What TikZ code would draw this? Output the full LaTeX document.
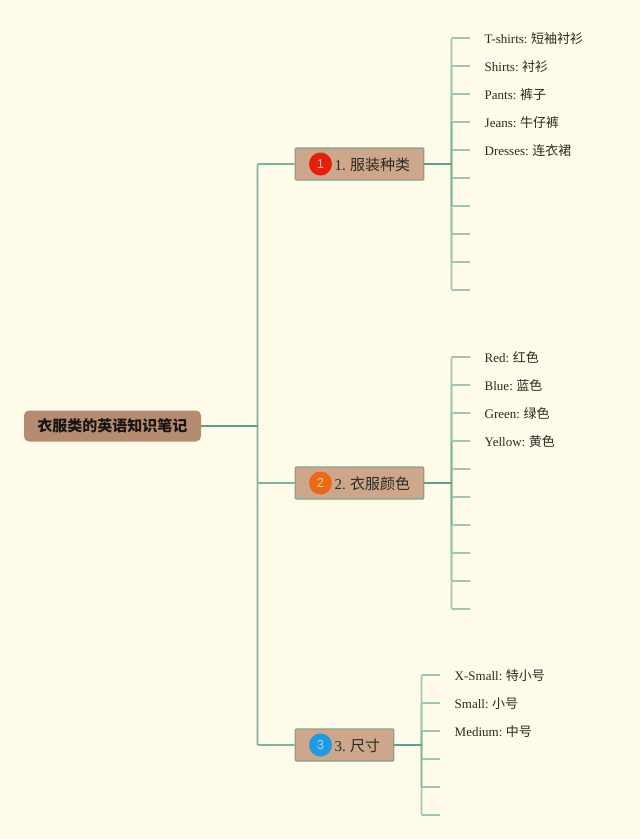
\documentclass[tikz,border=0pt]{standalone}
\usepackage{fontspec}
\setmainfont{Liberation Serif}
\setsansfont{Liberation Sans}
\newfontfamily\cjk{Noto Sans CJK SC}
\definecolor{bgc}{HTML}{FFFBE9}
\definecolor{rootc}{HTML}{B58C72}
\definecolor{branchc}{HTML}{CDA68C}
\definecolor{edgec}{HTML}{7FA590}
\definecolor{lightl}{HTML}{A0C8AC}
\definecolor{midl}{HTML}{7DB3A0}
\definecolor{darkl}{HTML}{5F9F92}
\definecolor{txtc}{HTML}{2A2A22}
\definecolor{iconr}{HTML}{E3200B}
\definecolor{icono}{HTML}{E96A12}
\definecolor{iconb}{HTML}{1F9AE0}
\tikzset{
  x=1pt,y=-1pt,
  rootbox/.style={draw=none,fill=rootc,rounded corners=5pt,minimum width=177pt,minimum height=31pt,inner sep=0pt,font=\cjk\fontsize{15}{16}\selectfont\bfseries,text=black!85!rootc},
  branchbox/.style={draw=edgec,line width=1.1pt,fill=branchc,minimum height=32pt,inner sep=0pt,text=txtc,rounded corners=1pt},
  badge/.style={circle,draw=none,minimum size=23pt,inner sep=0pt,text=white,text opacity=0.6,font=\sffamily\fontsize{13}{14}\selectfont},
  branchtext/.style={anchor=west,inner sep=0pt,text=txtc,font=\fontsize{15}{16}\selectfont},
  leaftext/.style={anchor=west,inner sep=0pt,text=txtc,font=\fontsize{13}{14}\selectfont},
  thin line/.style={draw=lightl,line width=1.6pt},
  mid line/.style={draw=midl,line width=1.6pt},
  thick line/.style={draw=darkl,line width=2pt},
}
\newcommand{\zh}[1]{\hspace{-0.8pt}{\cjk #1}}
\begin{document}
\begin{tikzpicture}
\path[use as bounding box,fill=bgc] (0,0) rectangle (640,839);

% root and branches
\node[rootbox] (root) at (112.5,426) {衣服类的英语知识笔记};
\node[branchbox,minimum width=128.5pt] (b1) at (359.5,164) {};
\node[branchbox,minimum width=128.5pt] (b2) at (359.5,483) {};
\node[branchbox,minimum width=98.5pt] (b3) at (344.5,745) {};
\node[badge,fill=iconr] (i1) at (320.5,164) {1};
\node[badge,fill=icono] (i2) at (320.5,483) {2};
\node[badge,fill=iconb] (i3) at (320.5,745) {3};
\node[branchtext] (t1) at (334.5,165) {1. \zh{服装种类}};
\node[branchtext] (t2) at (334.5,484) {2. \zh{衣服颜色}};
\node[branchtext] (t3) at (334.5,746) {3. \zh{尺寸}};

% junction coordinates
\coordinate (j0) at (257.5,426);
\coordinate (j1) at (451.5,164);
\coordinate (j2) at (451.5,483);
\coordinate (j3) at (421.5,745);

% root connectors
\draw[mid line,rounded corners=1pt] (b1.west) -| (j0);
\draw[mid line,rounded corners=1pt] (b3.west) -| (j0);
\draw[mid line] (b2.west) -| (j0);
\draw[thick line] (root.east) -- (j0);

% leaf connectors
\foreach \n/\y in {0/38,1/66,2/94,3/122,4/150,5/178,6/206,7/234,8/262,9/290}{
  \coordinate (a\n) at (470,\y);
  \draw[thin line,rounded corners=1pt] (a\n) -| (j1);
}
\foreach \n/\y in {0/357,1/385,2/413,3/441,4/469,5/497,6/525,7/553,8/581,9/609}{
  \coordinate (c\n) at (470,\y);
  \draw[thin line,rounded corners=1pt] (c\n) -| (j2);
}
\foreach \n/\y in {0/675,1/703,2/731,3/759,4/787,5/815}{
  \coordinate (e\n) at (440,\y);
  \draw[thin line,rounded corners=1pt] (e\n) -| (j3);
}
% darker part of spines near the branch
\draw[mid line] (451.5,122) -- (451.5,206);
\draw[mid line] (451.5,441) -- (451.5,525);
\draw[mid line] (421.5,731) -- (421.5,787);
\draw[thick line] (b1.east) -- (j1);
\draw[thick line] (b2.east) -- (j2);
\draw[thick line] (b3.east) -- (j3);

% leaf labels
\node[leaftext] (l1) at (484.5,38.5) {T-shirts: \zh{短袖衬衫}};
\node[leaftext] (l2) at (484.5,66.5) {Shirts: \zh{衬衫}};
\node[leaftext] (l3) at (484.5,94.5) {Pants: \zh{裤子}};
\node[leaftext] (l4) at (484.5,122.5) {Jeans: \zh{牛仔裤}};
\node[leaftext] (l5) at (484.5,150.5) {Dresses: \zh{连衣裙}};
\node[leaftext] (m1) at (484.5,357.5) {Red: \zh{红色}};
\node[leaftext] (m2) at (484.5,385.5) {Blue: \zh{蓝色}};
\node[leaftext] (m3) at (484.5,413.5) {Green: \zh{绿色}};
\node[leaftext] (m4) at (484.5,441.5) {Yellow: \zh{黄色}};
\node[leaftext] (n1) at (454.5,676) {X-Small: \zh{特小号}};
\node[leaftext] (n2) at (454.5,704) {Small: \zh{小号}};
\node[leaftext] (n3) at (454.5,732) {Medium: \zh{中号}};
\end{tikzpicture}
\end{document}
